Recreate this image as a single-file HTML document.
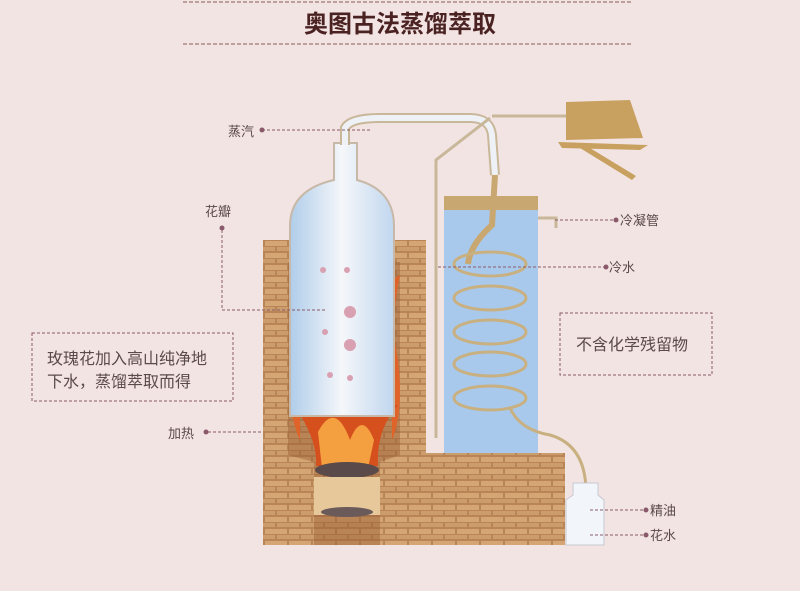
<!DOCTYPE html>
<html><head><meta charset="utf-8"><style>
html,body{margin:0;padding:0;background:#f2e4e3;}
svg{display:block;}
text{font-family:"Liberation Sans","Noto Sans CJK SC",sans-serif;fill:#5a4a4a;}
</style></head><body>
<svg width="800" height="591" viewBox="0 0 800 591" xmlns="http://www.w3.org/2000/svg">
<defs>
<pattern id="brick" width="24" height="12" patternUnits="userSpaceOnUse">
<rect width="24" height="12" fill="#b98456"/>
<rect x="1" y="1" width="22" height="5" fill="#d3a674"/>
<rect x="-11" y="7" width="22" height="4" fill="#cc9d6c"/>
<rect x="13" y="7" width="22" height="4" fill="#cc9d6c"/>
</pattern>
<linearGradient id="fl" x1="0" y1="0" x2="1" y2="0">
<stop offset="0" stop-color="#b0cdea"/><stop offset="0.5" stop-color="#f5f7fa"/><stop offset="1" stop-color="#c0d6ee"/></linearGradient>
</defs>
<rect width="800" height="591" fill="#f2e4e3"/>
<line x1="183" y1="2" x2="632" y2="2" stroke="#8a5a5a" stroke-dasharray="4,2"/>
<line x1="183" y1="44" x2="632" y2="44" stroke="#8a5a5a" stroke-dasharray="4,2"/>
<text x="400" y="32" text-anchor="middle" font-size="24" font-weight="bold" style="fill:#4a2222">奥图古法蒸馏萃取</text>

<rect x="263" y="240" width="163" height="305" fill="url(#brick)"/>
<rect x="420" y="453" width="145" height="92" fill="url(#brick)"/>
<path d="M288 262 L400 262 L400 455 L380 462 L380 545 L314 545 L314 462 L288 455 Z" fill="#9a5e34" opacity="0.45"/>
<!-- side flames -->
<path d="M290 275 Q302 320 292 360 Q286 410 300 440 L300 280Z" fill="#e0642a"/>
<path d="M400 275 Q390 320 398 360 Q404 410 392 440 L392 280Z" fill="#e0642a"/>
<path d="M294 405 Q318 440 316 466 L378 466 Q376 430 398 405 Z" fill="#d6501e"/>
<path d="M318 432 Q335 400 350 440 Q362 410 374 440 L368 468 L322 468Z" fill="#f5a040"/>
<ellipse cx="347" cy="470" rx="32" ry="8" fill="#5a4a4a"/>
<rect x="314" y="477" width="66" height="38" fill="#e6c89a"/>
<ellipse cx="347" cy="512" rx="26" ry="5" fill="#6a5a5a"/>

<path d="M290 416 L290 226 Q290 190 334 180 L334 143 L357 143 L357 180 Q394 190 394 226 L394 416 Z" fill="url(#fl)" stroke="#c8b8a8" stroke-width="2"/>
<g fill="#d8a0b0"><circle cx="323" cy="270" r="3"/><circle cx="347" cy="270" r="3"/><circle cx="350" cy="312" r="6"/><circle cx="325" cy="332" r="3"/><circle cx="350" cy="345" r="6"/><circle cx="330" cy="375" r="3"/><circle cx="350" cy="378" r="3"/></g>
<path d="M345 145 L345 128 Q350 118 380 118 L470 118 Q490 118 492 135 L495 175" fill="none" stroke="#c9b79a" stroke-width="10"/>
<path d="M345 145 L345 128 Q350 118 380 118 L470 118 Q490 118 492 135 L495 175" fill="none" stroke="#eef2f6" stroke-width="6"/>
<line x1="492" y1="116" x2="566" y2="116" stroke="#c9b79a" stroke-width="3"/>
<path d="M566 102 L630 100 L643 138 L566 140 Z" fill="#c8a060"/>
<path d="M558 142 L648 145 L640 150 L562 148Z" fill="#c8a060"/>
<path d="M580 148 L632 180 L636 176 L590 148Z" fill="#c8a060"/>
<path d="M436 438 L436 160 L490 118" fill="none" stroke="#c9b79a" stroke-width="3"/>
<rect x="444" y="196" width="94" height="257" fill="#a9c9ec"/>
<rect x="444" y="196" width="94" height="14" fill="#c8a870"/>
<path d="M538 218 L556 218 L556 228" fill="none" stroke="#c9b79a" stroke-width="3"/>
<path d="M495 175 L492 225 Q470 245 468 264" fill="none" stroke="#c8a870" stroke-width="6"/>
<g fill="none" stroke="#c8b080" stroke-width="3">
<ellipse cx="490" cy="264" rx="36" ry="12"/>
<ellipse cx="490" cy="298" rx="36" ry="12"/>
<ellipse cx="490" cy="332" rx="36" ry="12"/>
<ellipse cx="490" cy="364" rx="36" ry="12"/>
<ellipse cx="490" cy="398" rx="36" ry="12"/>
<path d="M510 408 Q520 430 550 435 Q585 445 586 490"/>
</g>
<path d="M573 483 L598 483 L598 495 L604 500 L604 545 L566 545 L566 500 L573 495Z" fill="#f2f6fb" stroke="#c8c8d0"/>

<g stroke="#8a5a6a" stroke-dasharray="3,2" fill="none">
<path d="M262 130 L372 130"/>
<path d="M222 230 L222 310 L326 310"/>
<path d="M208 432 L262 432"/>
<path d="M555 220 L614 220"/>
<path d="M438 267 L605 267"/>
<path d="M590 510 L646 510"/>
<path d="M590 535 L646 535"/>
<rect x="32" y="333" width="201" height="68"/>
<rect x="560" y="313" width="152" height="62"/>
</g>
<g fill="#8a5a6a"><circle cx="262" cy="130" r="2.5"/><circle cx="222" cy="228" r="2.5"/><circle cx="206" cy="432" r="2.5"/><circle cx="616" cy="220" r="2.5"/><circle cx="606" cy="267" r="2.5"/><circle cx="646" cy="510" r="2.5"/><circle cx="646" cy="535" r="2.5"/></g>
<text x="228" y="136" font-size="13">蒸汽</text>
<text x="205" y="216" font-size="13">花瓣</text>
<text x="168" y="438" font-size="13">加热</text>
<text x="620" y="225" font-size="13">冷凝管</text>
<text x="609" y="272" font-size="13">冷水</text>
<text x="650" y="515" font-size="13">精油</text>
<text x="650" y="540" font-size="13">花水</text>
<text x="47" y="364" font-size="16">玫瑰花加入高山纯净地</text>
<text x="47" y="387" font-size="16">下水，蒸馏萃取而得</text>
<text x="576" y="350" font-size="16">不含化学残留物</text>
</svg>
</body></html>
